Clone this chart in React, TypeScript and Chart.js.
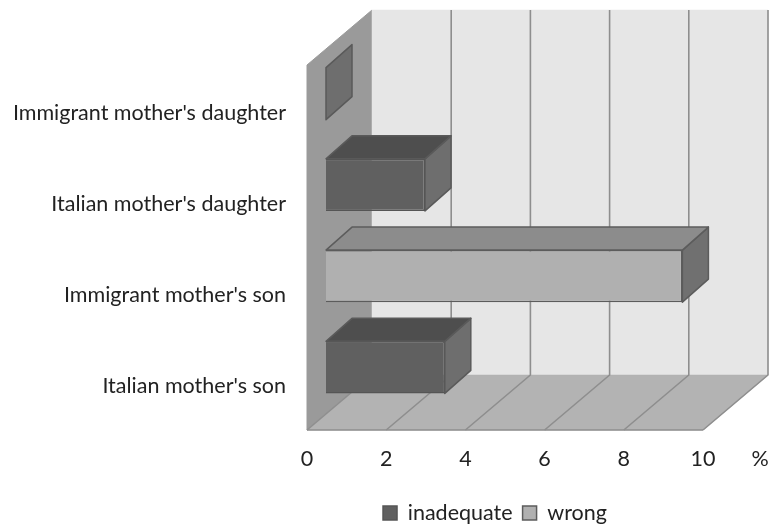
import React, { useEffect, useRef } from "react";
import { Chart, registerables } from "chart.js";

Chart.register(...registerables);

const categories = [
  "Immigrant mother's daughter",
  "Italian mother's daughter",
  "Immigrant mother's son",
  "Italian mother's son",
];
const inadequate = [0, 2.5, null, 3];
const wrong = [null, null, 9, null];
const xTicks = [0, 2, 4, 6, 8, 10];
const unitLabel = "%";

const FONT = "Lato, Carlito, sans-serif";
const FONT_SIZE = 21.5;
const TEXT = "#222222";
const WALL_DX = 65;
const WALL_DY = -55;
const BAR_SHIFT_X = 19;
const BAR_SHIFT_Y = -17;
const BAR_DX = 26;
const BAR_DY = -23;

const face = (ctx: CanvasRenderingContext2D, pts: number[][], fill: string, stroke: string, lw = 1.5) => {
  ctx.beginPath();
  pts.forEach((p, i) => (i ? ctx.lineTo(p[0], p[1]) : ctx.moveTo(p[0], p[1])));
  ctx.closePath();
  ctx.fillStyle = fill;
  ctx.fill();
  ctx.strokeStyle = stroke;
  ctx.lineWidth = lw;
  ctx.lineJoin = "round";
  ctx.stroke();
};

const threeD = {
  id: "threeD",
  afterLayout(chart: any) {
    const l = chart.legend;
    const w = l.right - l.left;
    l.left = 495 - w / 2;
    l.right = l.left + w;
    l.top = 513 - 10 - FONT_SIZE / 2;
    l.bottom = l.top + l.height;
  },
  beforeDatasetsDraw(chart: any) {
    const { ctx, chartArea: a, scales } = chart;
    const x = scales.x;
    ctx.save();
    face(ctx, [[a.left, a.top], [a.left + WALL_DX, 10], [a.left + WALL_DX, a.bottom + WALL_DY], [a.left, a.bottom]], "#9a9a9a", "#9a9a9a", 1);
    face(ctx, [[a.left + WALL_DX, 10], [a.right + WALL_DX, 10], [a.right + WALL_DX, a.bottom + WALL_DY], [a.left + WALL_DX, a.bottom + WALL_DY]], "#e6e6e6", "#e6e6e6", 0.5);
    face(ctx, [[a.left, a.bottom], [a.right, a.bottom], [a.right + WALL_DX, a.bottom + WALL_DY], [a.left + WALL_DX, a.bottom + WALL_DY]], "#b3b3b3", "#b3b3b3", 0.5);
    ctx.strokeStyle = "#8e8e8e";
    ctx.lineWidth = 1.6;
    xTicks.forEach((v, i) => {
      const px = x.getPixelForValue(v);
      ctx.beginPath();
      ctx.moveTo(px, a.bottom);
      ctx.lineTo(px + WALL_DX, a.bottom + WALL_DY);
      if (i > 0) ctx.lineTo(px + WALL_DX, 10);
      ctx.stroke();
    });
    ctx.beginPath();
    ctx.moveTo(a.left, a.bottom);
    ctx.lineTo(a.right, a.bottom);
    ctx.stroke();
    ctx.restore();

    ctx.save();
    ctx.translate(BAR_SHIFT_X, BAR_SHIFT_Y);
    chart.data.datasets.forEach((ds: any, di: number) => {
      const meta = chart.getDatasetMeta(di);
      meta.data.forEach((el: any, i: number) => {
        if (ds.data[i] === null) return;
        const { x: ex, y: ey, base, height } = el.getProps(["x", "y", "base", "height"], true);
        const t = ey - height / 2;
        const b = ey + height / 2;
        face(ctx, [[ex, t], [ex + BAR_DX, t + BAR_DY], [ex + BAR_DX, b + BAR_DY], [ex, b]], ds.sideColor, ds.edgeColor);
        if (ex > base) {
          face(ctx, [[base, t], [base + BAR_DX, t + BAR_DY], [ex + BAR_DX, t + BAR_DY], [ex, t]], ds.topColor, ds.edgeColor);
        }
      });
    });
  },
  afterDatasetsDraw(chart: any) {
    const { ctx } = chart;
    ctx.restore();
    ctx.save();
    ctx.fillStyle = TEXT;
    ctx.font = `${FONT_SIZE}px ${FONT}`;
    ctx.textAlign = "center";
    ctx.textBaseline = "middle";
    ctx.fillText(unitLabel, 760, 459);
    ctx.restore();
  },
};

export default function App() {
  const ref = useRef<HTMLCanvasElement>(null);
  useEffect(() => {
    const chart = new Chart(ref.current!, {
      type: "bar",
      plugins: [threeD],
      data: {
        labels: categories,
        datasets: [
          {
            label: "inadequate",
            data: inadequate,
            backgroundColor: "#606060",
            borderColor: "#555555",
            borderWidth: 1.5,
            topColor: "#4e4e4e",
            sideColor: "#6e6e6e",
            edgeColor: "#5a5a5a",
          },
          {
            label: "wrong",
            data: wrong,
            backgroundColor: "#b0b0b0",
            borderColor: "#5c5c5c",
            borderWidth: 1.5,
            topColor: "#8c8c8c",
            sideColor: "#707070",
            edgeColor: "#5c5c5c",
          },
        ] as any,
      },
      options: {
        indexAxis: "y",
        responsive: false,
        animation: false,
        layout: { padding: { left: 0, top: 65, right: 69, bottom: 0 } },
        datasets: { bar: { categoryPercentage: 1, barPercentage: 0.57 } },
        scales: {
          x: {
            type: "linear",
            stacked: true,
            min: 0,
            max: 10,
            afterBuildTicks: (s: any) => {
              s.ticks = xTicks.map((value) => ({ value }));
            },
            grid: { display: false },
            border: { display: false },
            ticks: { color: TEXT, font: { family: FONT, size: FONT_SIZE }, padding: 8.5, maxRotation: 0 },
            afterFit: (s: any) => {
              s.height = 53.5;
            },
          },
          y: {
            type: "category",
            stacked: true,
            grid: { display: false },
            border: { display: false },
            ticks: { color: TEXT, font: { family: FONT, size: FONT_SIZE }, padding: 13, labelOffset: 2 },
            afterFit: (s: any) => {
              s.width = 307;
            },
          },
        },
        plugins: {
          tooltip: { enabled: false },
          legend: {
            position: "bottom",
            labels: {
              color: TEXT,
              font: { family: FONT, size: FONT_SIZE },
              boxWidth: 14,
              boxHeight: 14,
              padding: 10,
            },
          },
        },
      } as any,
    });
    return () => chart.destroy();
  }, []);
  return (
    <div style={{ position: "fixed", left: 0, top: 0, width: 772, height: 525, background: "#fff" }}>
      <canvas ref={ref} width={772} height={525} style={{ display: "block" }} />
    </div>
  );
}
